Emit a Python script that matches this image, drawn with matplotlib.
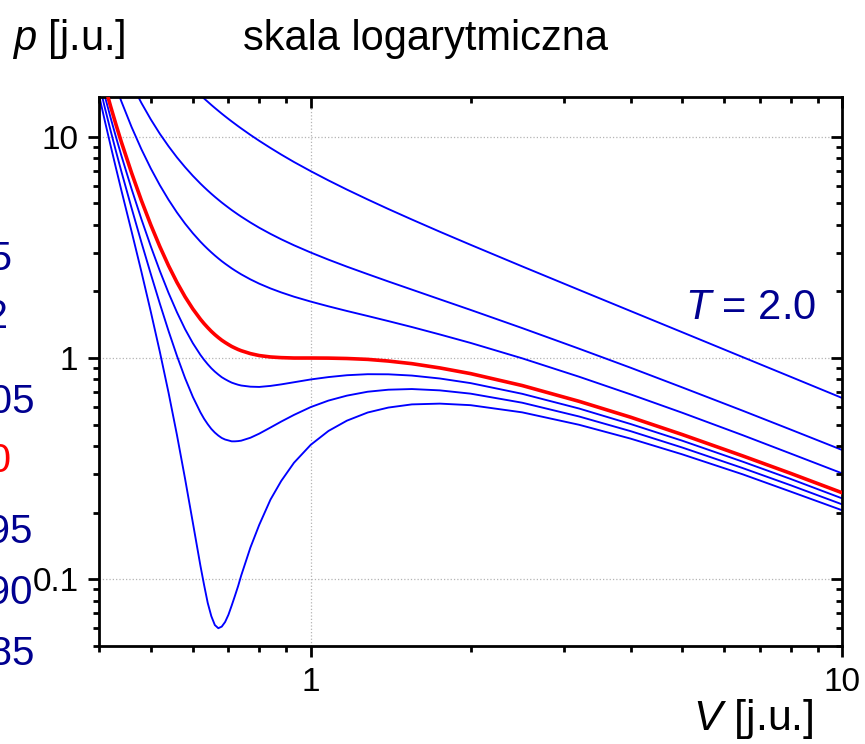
import numpy as np
import matplotlib
matplotlib.use('Agg')
import matplotlib.pyplot as plt
from matplotlib.ticker import LogLocator, NullFormatter

plt.rcParams['font.family'] = ['Liberation Sans', 'DejaVu Sans']
plt.rcParams['mathtext.fontset'] = 'custom'
plt.rcParams['mathtext.it'] = 'Liberation Sans:italic'
plt.rcParams['mathtext.rm'] = 'Liberation Sans'

# volume grid (reduced units)
V = [0.40, 0.41, 0.42, 0.43, 0.44, 0.46, 0.48, 0.50, 0.52, 0.54,
     0.56, 0.58, 0.60, 0.62, 0.63, 0.64, 0.65, 0.66, 0.67, 0.68,
     0.69, 0.70, 0.71, 0.72, 0.73, 0.74, 0.77, 0.80, 0.84, 0.88,
     0.93, 1.00, 1.08, 1.17, 1.28, 1.40, 1.55, 1.75, 2.0, 2.5,
     3.2, 4.0, 5.0, 6.5, 8.0, 10.0]

# pressures, each list lines up with the tail of V
p_085 = [15.25, 11.72, 9.15, 7.22, 5.75, 3.74, 2.46, 1.62, 1.067, 0.697,
         0.449, 0.285, 0.180, 0.115, 0.094, 0.078, 0.068, 0.062, 0.060, 0.061,
         0.064, 0.069, 0.076, 0.084, 0.093, 0.104, 0.139, 0.176, 0.229, 0.278,
         0.336, 0.405, 0.468, 0.521, 0.567, 0.597, 0.617, 0.622, 0.612, 0.568,
         0.499, 0.432, 0.367, 0.298, 0.249, 0.205]
p_090 = [17.25, 13.46, 10.69, 8.60, 7.00, 4.77, 3.34, 2.40, 1.762, 1.325,
         1.023, 0.812, 0.667, 0.568, 0.531, 0.502, 0.478, 0.460, 0.446, 0.435,
         0.428, 0.424, 0.420, 0.420, 0.421, 0.423, 0.436, 0.455, 0.485, 0.516,
         0.553, 0.600, 0.642, 0.676, 0.704, 0.719, 0.724, 0.714, 0.690, 0.628,
         0.544, 0.467, 0.394, 0.318, 0.266, 0.218]
p_095 = [19.25, 15.20, 12.22, 9.98, 8.25, 5.82, 4.25, 3.20, 2.477, 1.970,
         1.611, 1.352, 1.167, 1.033, 0.981, 0.937, 0.899, 0.868, 0.842, 0.819,
         0.802, 0.787, 0.774, 0.765, 0.757, 0.751, 0.742, 0.740, 0.748, 0.760,
         0.777, 0.800, 0.820, 0.836, 0.845, 0.844, 0.833, 0.808, 0.770, 0.689,
         0.591, 0.503, 0.423, 0.340, 0.284, 0.232]
p_100 = [21.25, 16.94, 13.76, 11.36, 9.50, 6.88, 5.16, 4.00, 3.191, 2.615,
         2.199, 1.893, 1.667, 1.498, 1.430, 1.372, 1.320, 1.276, 1.238, 1.204,
         1.176, 1.151, 1.128, 1.110, 1.093, 1.079, 1.047, 1.026, 1.011, 1.004,
         1.000, 1.000, 0.999, 0.995, 0.986, 0.969, 0.943, 0.902, 0.850, 0.751,
         0.637, 0.540, 0.451, 0.361, 0.301, 0.246]
p_120 = [19.92, 16.88, 14.50, 11.09, 8.80, 7.20, 6.048, 5.196,
         4.552, 4.055, 3.667, 3.358, 3.228, 3.111, 3.005, 2.909, 2.822, 2.742,
         2.671, 2.606, 2.544, 2.489, 2.438, 2.390, 2.268, 2.169, 2.064, 1.980,
         1.894, 1.800, 1.713, 1.632, 1.549, 1.469, 1.381, 1.278, 1.170, 0.997,
         0.823, 0.685, 0.566, 0.448, 0.370, 0.301]
p_150 = [17.40, 14.25, 12.00, 10.33, 9.07,
         8.08, 7.30, 6.667, 6.149, 5.925, 5.720, 5.531, 5.358, 5.199, 5.050,
         4.915, 4.788, 4.668, 4.559, 4.455, 4.358, 4.101, 3.883, 3.643, 3.443,
         3.235, 3.000, 2.785, 2.589, 2.395, 2.219, 2.039, 1.843, 1.650, 1.366,
         1.102, 0.904, 0.737, 0.578, 0.475, 0.384]
p_top = [18.11, 16.67, 15.45, 14.91, 14.42, 13.95, 13.52, 13.12, 12.74,
         12.39, 12.06, 11.75, 11.46, 11.18, 10.92, 10.21, 9.60, 8.91, 8.32,
         7.70, 7.00, 6.356, 5.776, 5.212, 4.719, 4.231, 3.725, 3.250, 2.597,
         2.033, 1.631, 1.309, 1.010, 0.823, 0.660]

blue_curves = [p_085, p_090, p_095, p_120, p_150, p_top]
side_labels = ['1.5', '1.2', '1.05', '1.0', '0.95', '0.90', '0.85']

navy = '#000090'

fig = plt.figure(figsize=(8.65, 7.44), dpi=100)
ax = fig.add_axes([0.1148, 0.1321, 0.8586, 0.7371])

for p in blue_curves:
    ax.plot(V[-len(p):], p, color='#0000ff', lw=1.35, zorder=2)
ax.plot(V[-len(p_100):], p_100, color='#ff0000', lw=2.6, zorder=3)

ax.set_xscale('log')
ax.set_yscale('log')
ax.set_xlim(0.4, 10)
ax.set_ylim(0.05, 15.1)

ax.set_xticks([1, 10])
ax.set_xticklabels(['1', '10'])
ax.set_yticks([0.1, 1, 10])
ax.set_yticklabels(['0.1', '1', '10'])
ax.xaxis.set_minor_locator(LogLocator(base=10, subs=np.arange(2, 10), numticks=20))
ax.yaxis.set_minor_locator(LogLocator(base=10, subs=np.arange(2, 10), numticks=20))
ax.xaxis.set_minor_formatter(NullFormatter())
ax.yaxis.set_minor_formatter(NullFormatter())

ax.tick_params(which='major', direction='out', length=8, width=2, labelsize=24, pad=7)
ax.tick_params(which='minor', direction='out', length=4.5, width=2)
for s in ax.spines.values():
    s.set_linewidth(2)
ax.grid(which='major', ls=':', color='#b4b4b4', lw=0.9)

# inward ticks on top and right
ax2 = fig.add_axes(ax.get_position(), sharex=ax, sharey=ax, frameon=False)
ax2.tick_params(which='both', direction='in', top=True, right=True, bottom=False, left=False,
                labelbottom=False, labelleft=False, width=2)
ax2.tick_params(which='major', length=8)
ax2.tick_params(which='minor', length=4.5)

fig.text(12 / 865, 1 - 50 / 744, r'$p$ [j.u.]', fontsize=30)
fig.text(243 / 865, 1 - 50 / 744, 'skala logarytmiczna', fontsize=30)
fig.text(685 / 865, 1 - 319 / 744, r'$T$ = 2.0', fontsize=30, color=navy)
fig.text(693 / 865, 1 - 730 / 744, r'$V$ [j.u.]', fontsize=31)

# temperature labels on the left, partly cut off by the figure edge
label_right = [13, 9, 35, 12, 33, 33, 35]
label_base = [270, 328, 413, 472, 543, 604, 665]
for txt, xr, yb in zip(side_labels, label_right, label_base):
    col = '#ff0000' if txt == '1.0' else navy
    fig.text(xr / 865, 1 - yb / 744, txt, fontsize=29, color=col, ha='right')

fig.savefig('out.png', dpi=100)
